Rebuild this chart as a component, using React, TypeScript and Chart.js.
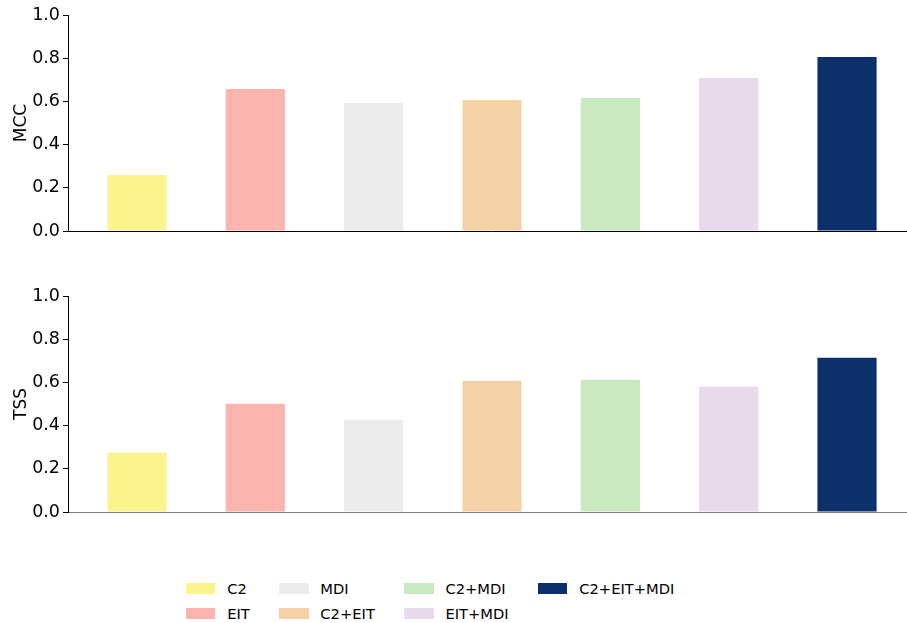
import React, { useEffect, useRef } from "react";
import { Chart, registerables } from "chart.js";

Chart.register(...registerables);

// Feature combinations, one bar each
const categories = ["C2", "EIT", "MDI", "C2+EIT", "C2+MDI", "EIT+MDI", "C2+EIT+MDI"];
const barColors = ["#fbf48c", "#fbb4ae", "#ececec", "#f6d1a5", "#c9e9c1", "#e8d9ec", "#0b306b"];

// Scores per combination
const mccValues = [0.259, 0.657, 0.593, 0.606, 0.616, 0.708, 0.806];
const tssValues = [0.274, 0.501, 0.427, 0.608, 0.612, 0.58, 0.714];

const yTicks = [0, 0.2, 0.4, 0.6, 0.8, 1.0];

const FONT = "'DejaVu Sans', sans-serif";
const CANVAS_W = 930;
const CANVAS_H = 260;

function makeConfig(values: number[], title: string, baseColor: string): any {
  return {
    type: "bar",
    data: {
      datasets: [
        {
          label: title,
          data: values.map((v, i) => ({ x: i, y: v })),
          backgroundColor: barColors,
          borderWidth: 0,
          barPercentage: 0.5,
          categoryPercentage: 1,
        },
      ],
    },
    options: {
      responsive: false,
      animation: false,
      devicePixelRatio: 1,
      layout: { padding: { top: 15, bottom: 29, left: 0, right: 16 } },
      plugins: { legend: { display: false }, tooltip: { enabled: false } },
      scales: {
        x: {
          type: "linear",
          offset: false,
          min: -0.583,
          max: categories.length - 1 + 0.566,
          // one (hidden) tick per category so bar widths follow the category spacing
          afterBuildTicks: (s: any) => {
            s.ticks = categories.map((_, i) => ({ value: i }));
          },
          ticks: { display: false },
          grid: { display: false, offset: false },
          border: { display: true, color: baseColor, width: 1, z: 1 },
          afterFit: (s: any) => {
            s.height = 0;
          },
        },
        y: {
          min: 0,
          max: 1,
          afterBuildTicks: (s: any) => {
            s.ticks = yTicks.map((v) => ({ value: v }));
          },
          ticks: {
            callback: (v: any) => Number(v).toFixed(1),
            color: "#000",
            padding: 3,
            font: { family: FONT, size: 17.5 },
          },
          grid: {
            display: true,
            drawOnChartArea: false,
            drawTicks: true,
            tickLength: 5,
            tickColor: "#000",
            lineWidth: 1,
          },
          border: { display: true, color: "#000", width: 1 },
          title: {
            display: true,
            text: title,
            color: "#000",
            font: { family: FONT, size: 17 },
            padding: { top: 11, bottom: 0 },
          },
          afterFit: (s: any) => {
            s.width = 68;
          },
        },
      },
    },
  };
}

function BarPanel({ values, title, top, baseColor }: { values: number[]; title: string; top: number; baseColor: string }) {
  const ref = useRef<HTMLCanvasElement | null>(null);
  useEffect(() => {
    if (!ref.current) return;
    const chart = new Chart(ref.current, makeConfig(values, title, baseColor));
    return () => chart.destroy();
  }, [values, title, baseColor]);
  return (
    <canvas
      ref={ref}
      width={CANVAS_W}
      height={CANVAS_H}
      style={{ position: "absolute", left: 0, top, width: CANVAS_W, height: CANVAS_H }}
    />
  );
}

function Legend() {
  return (
    <div
      style={{
        position: "absolute",
        left: 186,
        top: 576,
        display: "grid",
        gridTemplateRows: "25px 25px",
        gridAutoFlow: "column",
        columnGap: 29.4,
        fontFamily: FONT,
        fontSize: 14.7,
        color: "#000",
      }}
    >
      {categories.map((c, i) => (
        <div key={c} style={{ display: "flex", alignItems: "center", whiteSpace: "nowrap" }}>
          <span
            style={{
              display: "inline-block",
              width: 29.4,
              height: 10.3,
              background: barColors[i],
              marginRight: 11.8,
            }}
          />
          <span>{c}</span>
        </div>
      ))}
    </div>
  );
}

export default function App() {
  return (
    <div
      style={{
        position: "fixed",
        left: 0,
        top: 0,
        width: 907,
        height: 623,
        overflow: "hidden",
        background: "#fff",
      }}
    >
      <BarPanel values={mccValues} title="MCC" top={0} baseColor="#000" />
      <BarPanel values={tssValues} title="TSS" top={281} baseColor="rgba(0,0,0,0.5)" />
      <Legend />
    </div>
  );
}
